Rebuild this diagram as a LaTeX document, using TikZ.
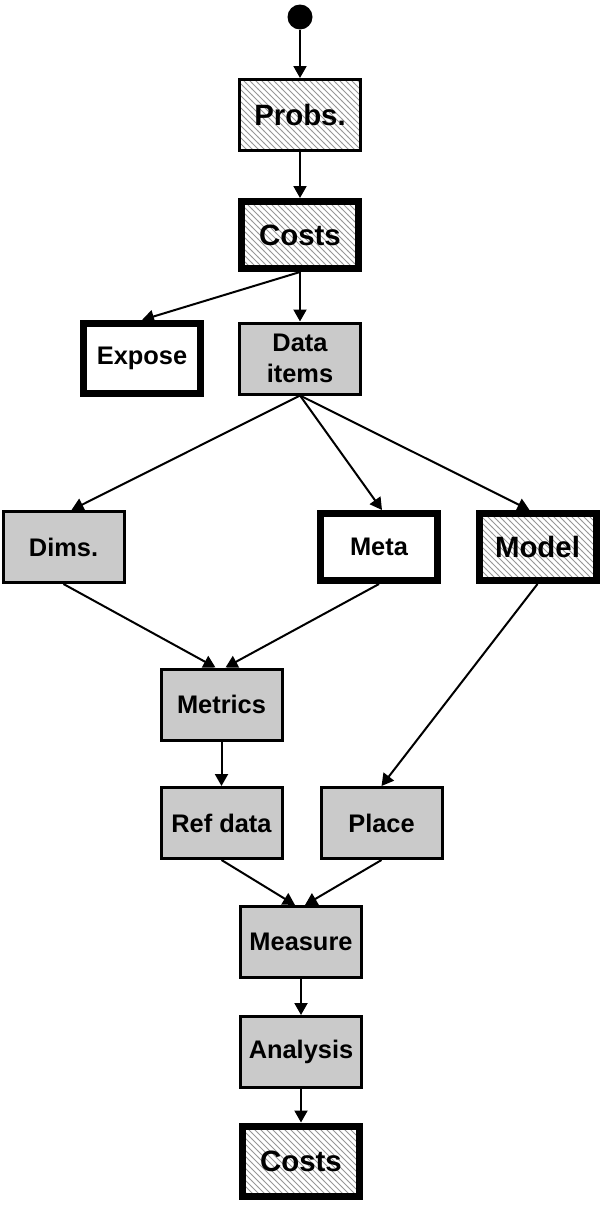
\documentclass[tikz,border=0pt]{standalone}
\usepackage{fontspec}
\setmainfont{Liberation Sans}
\usepackage{tikz}
\usetikzlibrary{patterns, arrows.meta, positioning}

\begin{document}
\begin{tikzpicture}[x=0.5pt, y=-0.5pt,
        box/.style={draw=black, rectangle, inner sep=0pt, minimum width=60.5pt, minimum height=35.5pt,
            line width=1.5pt, align=center, font=\fontsize{12.7}{15.5}\selectfont\bfseries},
        thickbox/.style={box, line width=3.5pt, minimum width=58.5pt, minimum height=33.5pt},
        grey/.style={fill=boxgray},
        hatch/.style={pattern=north west lines, pattern color=hatchgray},
        bigtext/.style={font=\fontsize{14.7}{16}\selectfont\bfseries},
        arr/.style={-{Triangle[length=6pt, width=6.5pt]}, line width=1pt}]
        % Colours
        \definecolor{boxgray}{RGB}{202, 202, 202}
        \definecolor{hatchgray}{RGB}{150, 150, 150}

        \useasboundingbox (0,0) rectangle (605,1205);

        % 1. Start point and the top column
        \node[circle, fill=black, inner sep=0pt, minimum size=12.5pt] (start) at (300, 17) {};
        \node[box, hatch, bigtext] (probs) at (300, 115) {Probs.};
        \node[thickbox, hatch, bigtext] (costs1) at (300, 235) {Costs};

        % 2. Second row
        \node[thickbox, minimum height=35pt] (expose) at (142, 358.5) {Expose};
        \node[box, grey] (items) at (300, 358.5) {Data\\items};

        % 3. Third row
        \node[box, grey] (dims) at (63.5, 547) {Dims.};
        \node[thickbox] (meta) at (379, 547) {Meta};
        \node[thickbox, hatch, bigtext] (model) at (537.5, 547) {Model};

        % 4. Lower part
        \node[box, grey] (metrics) at (221.5, 704.5) {Metrics};
        \node[box, grey] (refdata) at (221.5, 823) {Ref data};
        \node[box, grey] (place) at (381.5, 823) {Place};
        \node[box, grey] (measure) at (301, 942) {Measure};
        \node[box, grey] (analysis) at (301, 1052) {Analysis};
        \node[thickbox, hatch, bigtext, minimum height=35pt] (costs2) at (301, 1161) {Costs};

        % 5. Arrows
        \draw[arr] (start) -- (probs);
        \draw[arr] (probs) -- (costs1);
        \draw[arr] (costs1) -- (items);
        \draw[arr] (costs1.south) -- (expose.north);
        \draw[arr] (items.south) -- ([xshift=4pt]dims.north);
        \draw[arr] (items.south) -- ([xshift=1.5pt]meta.north);
        \draw[arr] (items.south) -- ([xshift=-4pt]model.north);
        \draw[arr] (dims.south) -- ([xshift=-3pt]metrics.north);
        \draw[arr] (meta.south) -- ([xshift=2pt]metrics.north);
        \draw[arr] (model.south) -- (place.north);
        \draw[arr] (metrics) -- (refdata);
        \draw[arr] (refdata.south) -- ([xshift=-3pt]measure.north);
        \draw[arr] (place.south) -- ([xshift=2pt]measure.north);
        \draw[arr] (measure) -- (analysis);
        \draw[arr] (analysis) -- (costs2);

    \end{tikzpicture}
\end{document}
